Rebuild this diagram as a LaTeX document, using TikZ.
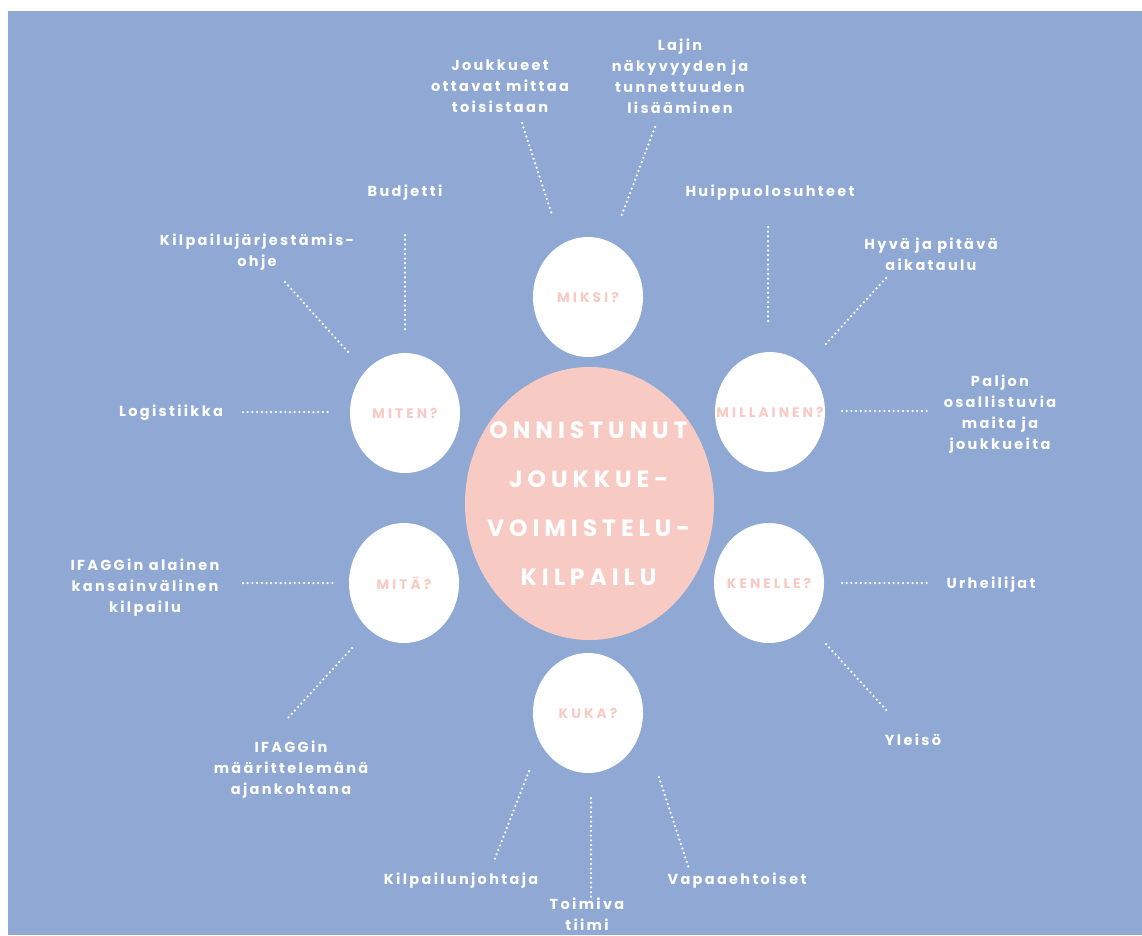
\documentclass[tikz,border=0pt]{standalone}
\usepackage{fontspec}
\setmainfont{Poppins}[LetterSpace=16]
\usetikzlibrary{shapes.geometric}
\definecolor{bgblue}{RGB}{143,168,212}
\definecolor{softpink}{RGB}{247,202,196}
\tikzset{
  lbl/.style={text=white, font=\fontsize{14.5}{21}\selectfont\bfseries, align=center, inner sep=0pt},
  qcircle/.style={ellipse, fill=white, minimum width=110pt, minimum height=120pt, inner sep=0pt,
     text=softpink, font=\fontsize{13.8}{16}\selectfont\bfseries\addfontfeatures{LetterSpace=22}},
  hub/.style={ellipse, fill=softpink, minimum width=249pt, minimum height=273pt, inner sep=0pt},
  hubtext/.style={text=white, align=center, inner sep=0pt,
     font=\fontsize{23.5}{49}\selectfont\bfseries\addfontfeatures{LetterSpace=21}},
  dots/.style={white, line width=2.5pt, line cap=round, dash pattern=on 0pt off 4.7pt}
}
\newcommand{\zb}[1]{\makebox[0pt]{#1}}
\begin{document}
\begin{tikzpicture}[x=1pt, y=-1pt]
\useasboundingbox (0,0) rectangle (1142,935);
\fill[white] (0,0) rectangle (1142,935);
\fill[bgblue] (8,11) rectangle (1142,935);

% hub and question circles
\node[hub] (hub) at (589.5,503.5) {};
\node[hubtext] (hubt) at (588.5,503.5) {ONNISTUNUT\\JOUKKUE-\\VOIMISTELU-\\KILPAILU};
\node[qcircle] (miksi) at (588,297) {\zb{MIKSI?}};
\node[qcircle] (miten) at (405,413) {\zb{MITEN?}};
\node[qcircle] (millainen) at (770,412) {\zb{MILLAINEN?}};
\node[qcircle] (mita) at (404,583) {\zb{MITÄ?}};
\node[qcircle] (kenelle) at (769,583) {\zb{KENELLE?}};
\node[qcircle] (kuka) at (588,713) {\zb{KUKA?}};

% labels
\node[lbl] (joukkueet) at (500,86) {Joukkueet\\ottavat mittaa\\toisistaan};
\node[lbl] (lajin) at (680,76) {Lajin\\näkyvyyden ja\\tunnettuuden\\lisääminen};
\node[lbl] (budjetti) at (405,193) {Budjetti};
\node[lbl] (huippu) at (770,193) {Huippuolosuhteet};
\node[lbl] (ohje) at (257,252) {Kilpailujärjestämis-\\ohje};
\node[lbl] (hyva) at (931,254) {Hyvä ja pitävä\\aikataulu};
\node[lbl] (logistiikka) at (171,413) {Logistiikka};
\node[lbl] (paljon) at (1000,414) {Paljon\\osallistuvia\\maita ja\\joukkueita};
\node[lbl] (ifagg) at (145,588) {IFAGGin alainen\\kansainvälinen\\kilpailu};
\node[lbl] (urheilijat) at (991,585) {Urheilijat};
\node[lbl] (ajankohta) at (291,770) {IFAGGin\\määrittelemänä\\ajankohtana};
\node[lbl] (yleiso) at (913,740) {Yleisö};
\node[lbl] (johtaja) at (461,881) {Kilpailunjohtaja};
\node[lbl, anchor=north] (tiimi) at (587,898) {Toimiva\\tiimi};
\node[lbl] (vapaa) at (737,881) {Vapaaehtoiset};

% connector end points
\coordinate (a1) at (522,123); \coordinate (a2) at (552,215);
\coordinate (b1) at (655,127); \coordinate (b2) at (621,217);
\coordinate (c1) at (405,235); \coordinate (c2) at (405,332);
\coordinate (d1) at (768,227); \coordinate (d2) at (768,325);
\coordinate (e1) at (285,282); \coordinate (e2) at (348,352);
\coordinate (f1) at (886,278); \coordinate (f2) at (823,347);
\coordinate (g1) at (243,412); \coordinate (g2) at (332,412);
\coordinate (h1) at (842,411); \coordinate (h2) at (930,411);
\coordinate (i1) at (243,583); \coordinate (i2) at (333,583);
\coordinate (j1) at (842,583); \coordinate (j2) at (931,583);
\coordinate (k1) at (352,648); \coordinate (k2) at (288,718);
\coordinate (l1) at (826,644); \coordinate (l2) at (889,713);
\coordinate (m1) at (529,771); \coordinate (m2) at (494,861);
\coordinate (n1) at (591,798); \coordinate (n2) at (591,897);
\coordinate (o1) at (659,777); \coordinate (o2) at (689,869);

\foreach \p in {a,b,c,d,e,f,g,h,i,j,k,l,m,n,o}
  \draw[dots] (\p1) -- (\p2);
\end{tikzpicture}
\end{document}
